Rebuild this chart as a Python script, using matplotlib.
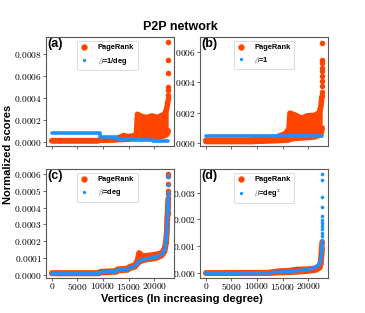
import matplotlib
matplotlib.use('Agg')
import matplotlib.pyplot as plt
from matplotlib.ticker import MultipleLocator, FixedLocator
from matplotlib.lines import Line2D

ORANGE = '#FF4500'
BLUE = '#1E90FF'
SANS = ['Liberation Sans', 'DejaVu Sans']

# ---------------- data ----------------
title = 'P2P network'
xlabel = 'Vertices (In increasing degree)'
ylabel = 'Normalized scores'
panel_tags = ['(a)', '(b)', '(c)', '(d)']
beta_labels = [r'$\beta$=1/deg', r'$\beta$=1', r'$\beta$=deg', r'$\beta$=deg$^2$']
x_ticks = [0, 5000, 10000, 15000, 20000]

# (a) PageRank band (lower / upper envelope of the dense point cloud)
pr_a_x = [0, 9000, 9300, 12500, 13000, 14000, 15000, 16000, 16500, 16700, 17500, 18500,
          19500, 20500, 21500, 22000, 22400, 22600, 22687]
pr_a_lo = [0.07e-4, 0.07e-4, 0.12e-4, 0.15e-4, 0.18e-4, 0.2e-4, 0.22e-4, 0.25e-4, 0.28e-4,
           0.3e-4, 0.32e-4, 0.35e-4, 0.38e-4, 0.42e-4, 0.48e-4, 0.55e-4, 0.65e-4, 0.8e-4, 1.0e-4]
pr_a_hi = [0.09e-4, 0.09e-4, 0.15e-4, 0.22e-4, 0.35e-4, 0.55e-4, 0.45e-4, 0.55e-4, 0.65e-4,
           2.5e-4, 2.3e-4, 2.2e-4, 2.35e-4, 2.2e-4, 2.4e-4, 2.5e-4, 3.0e-4, 3.6e-4, 3.7e-4]
pr_a_out_x = [22680, 22660, 22670, 22640, 22650, 22620, 22600]
pr_a_out_y = [9.1e-4, 7.5e-4, 6.3e-4, 4.95e-4, 4.75e-4, 4.3e-4, 4.0e-4]
b_a_x = [0, 9350, 12800, 16300, 19800, 22687]
b_a_y = [0.75e-4, 0.38e-4, 0.26e-4, 0.16e-4, 0.05e-4, 0.05e-4]

# (b)
pr_b_x = [0, 9000, 9300, 11000, 13800, 15400, 16200, 16400, 17300, 18600, 19900, 21200,
          22100, 22440, 22600, 22687]
pr_b_lo = [0.09e-4, 0.09e-4, 0.1e-4, 0.12e-4, 0.15e-4, 0.18e-4, 0.2e-4, 0.25e-4, 0.3e-4,
           0.33e-4, 0.36e-4, 0.4e-4, 0.5e-4, 0.6e-4, 0.8e-4, 1.0e-4]
pr_b_hi = [0.17e-4, 0.17e-4, 0.2e-4, 0.28e-4, 0.39e-4, 0.6e-4, 0.9e-4, 1.97e-4, 1.86e-4,
           1.64e-4, 1.8e-4, 1.82e-4, 2.0e-4, 2.4e-4, 3.0e-4, 3.1e-4]
pr_b_out_x = [22680, 22660, 22670, 22650, 22640, 22630, 22620, 22610, 22600, 22590]
pr_b_out_y = [6.6e-4, 5.5e-4, 5.3e-4, 4.95e-4, 4.75e-4, 4.4e-4, 4.1e-4, 3.75e-4, 3.4e-4, 3.1e-4]
b_b_x = [0, 22687]
b_b_y = [0.44e-4, 0.44e-4]

# (c)
c_x = [0, 9200, 9400, 12600, 12800, 14800, 15200, 16200, 16700, 17000, 17400, 17700, 18500,
       19500, 20500, 21500, 22000, 22300, 22450, 22550, 22687]
b_c_y = [0.09e-4, 0.09e-4, 0.15e-4, 0.19e-4, 0.28e-4, 0.32e-4, 0.42e-4, 0.5e-4, 0.7e-4,
         0.8e-4, 0.86e-4, 0.9e-4, 0.95e-4, 0.99e-4, 1.07e-4, 1.22e-4, 1.5e-4, 2.0e-4,
         2.8e-4, 3.5e-4, 4.4e-4]
pr_c_lo = [0.07e-4, 0.07e-4, 0.12e-4, 0.16e-4, 0.24e-4, 0.28e-4, 0.38e-4, 0.46e-4, 0.65e-4,
           0.75e-4, 0.8e-4, 0.85e-4, 0.9e-4, 0.94e-4, 1.0e-4, 1.15e-4, 1.4e-4, 1.9e-4,
           2.7e-4, 3.4e-4, 4.3e-4]
pr_c_hi = [0.1e-4, 0.1e-4, 0.18e-4, 0.22e-4, 0.32e-4, 0.37e-4, 0.48e-4, 0.58e-4, 0.85e-4,
           1.3e-4, 1.2e-4, 1.1e-4, 1.13e-4, 1.17e-4, 1.22e-4, 1.32e-4, 1.6e-4, 2.1e-4,
           2.9e-4, 3.6e-4, 4.5e-4]
pr_c_out_x = [22680, 22670, 22660, 22650, 22640, 22630, 22600]
pr_c_out_y = [6.0e-4, 5.9e-4, 5.4e-4, 5.0e-4, 4.8e-4, 4.6e-4, 3.7e-4]
b_c_out_x = [22680, 22670, 22660, 22650, 22640, 22630, 22620, 22610]
b_c_out_y = [5.95e-4, 5.85e-4, 5.35e-4, 4.95e-4, 4.75e-4, 4.55e-4, 4.3e-4, 3.9e-4]

# (d)
pr_d_x = [0, 12000, 14400, 16000, 18000, 20000, 21500, 22200, 22450, 22550, 22687]
pr_d_lo = [0.0, 0.0, 0.02e-3, 0.03e-3, 0.05e-3, 0.08e-3, 0.12e-3, 0.2e-3, 0.35e-3, 0.6e-3, 0.9e-3]
pr_d_hi = [0.01e-3, 0.02e-3, 0.08e-3, 0.09e-3, 0.14e-3, 0.15e-3, 0.19e-3, 0.3e-3, 0.5e-3,
           0.9e-3, 1.16e-3]
b_d_x = [0, 12000, 13500, 15500, 17000, 18500, 20000, 21000, 21800, 22200, 22440, 22550, 22687]
b_d_y = [0.0, 0.01e-3, 0.03e-3, 0.05e-3, 0.08e-3, 0.1e-3, 0.14e-3, 0.19e-3, 0.27e-3,
         0.35e-3, 0.5e-3, 0.75e-3, 1.1e-3]
b_d_out_x = [22687, 22680, 22675, 22670, 22665, 22660, 22655, 22650, 22645, 22640, 22635, 22630]
b_d_out_y = [3.69e-3, 3.48e-3, 2.85e-3, 2.48e-3, 2.12e-3, 1.98e-3, 1.88e-3, 1.76e-3,
             1.64e-3, 1.51e-3, 1.37e-3, 1.25e-3]

ylims = [(-0.00004, 0.000956), (-0.00002, 0.0007), (-0.00002, 0.00063), (-0.00018, 0.00388)]
ysteps = [0.0002, 0.0002, 0.0001, 0.001]

# ---------------- drawing ----------------
plt.rcParams['font.family'] = 'serif'
plt.rcParams['font.serif'] = ['cmr10', 'DejaVu Serif']
plt.rcParams['mathtext.fontset'] = 'cm'
plt.rcParams['axes.formatter.use_mathtext'] = True

fig = plt.figure(figsize=(3.65, 3.13), dpi=100)
W, H = 365.0, 313.0
boxes = [(46, 37, 174, 146), (200, 37, 328, 146), (46, 169, 174, 278), (200, 169, 328, 278)]
axes = []
for (l, t, r, b) in boxes:
    ax = fig.add_axes([l / W, 1 - b / H, (r - l) / W, (b - t) / H])
    axes.append(ax)
axes[0].set_zorder(2); axes[1].set_zorder(1)
axes[2].set_zorder(2); axes[3].set_zorder(1)

OLW = 4.0   # orange marker diameter (pt)
BLW = 2.6   # blue marker diameter (pt)


def band(ax, x, lo, hi, color, lw, z):
    ax.fill_between(x, lo, hi, color=color, lw=0, zorder=z)
    for arr in (lo, hi):
        ax.plot(x, arr, color=color, lw=lw, solid_capstyle='round',
                solid_joinstyle='round', zorder=z)


def line(ax, x, y, color, lw, z, step=False):
    ax.plot(x, y, color=color, lw=lw, solid_capstyle='round', solid_joinstyle='round',
            zorder=z, drawstyle='steps-post' if step else 'default')


ax = axes[0]
band(ax, pr_a_x, pr_a_lo, pr_a_hi, ORANGE, OLW, 2)
ax.plot(pr_a_out_x, pr_a_out_y, 'o', color=ORANGE, ms=OLW, mew=0, zorder=2)
line(ax, b_a_x, b_a_y, BLUE, BLW, 3, step=True)

ax = axes[1]
band(ax, pr_b_x, pr_b_lo, pr_b_hi, ORANGE, OLW, 2)
ax.plot(pr_b_out_x, pr_b_out_y, 'o', color=ORANGE, ms=OLW, mew=0, zorder=2)
line(ax, b_b_x, b_b_y, BLUE, BLW, 3)

ax = axes[2]
band(ax, c_x, pr_c_lo, pr_c_hi, ORANGE, OLW, 2)
ax.plot(pr_c_out_x, pr_c_out_y, 'o', color=ORANGE, ms=OLW, mew=0, zorder=2)
line(ax, c_x, b_c_y, BLUE, BLW, 3)
ax.plot(b_c_out_x, b_c_out_y, 'o', color=BLUE, ms=BLW, mew=0, zorder=3)

ax = axes[3]
band(ax, pr_d_x, pr_d_lo, pr_d_hi, ORANGE, OLW, 2)
line(ax, b_d_x, b_d_y, BLUE, BLW, 3)
ax.plot(b_d_out_x, b_d_out_y, 'o', color=BLUE, ms=BLW, mew=0, zorder=3)

for i, ax in enumerate(axes):
    ax.set_xlim(-1134, 23821)
    ax.set_ylim(*ylims[i])
    ax.xaxis.set_major_locator(FixedLocator(x_ticks))
    ax.yaxis.set_major_locator(MultipleLocator(ysteps[i]))
    ax.tick_params(axis='both', length=2, width=0.6, color='0.3', labelsize=6.8)
    ax.tick_params(axis='y', pad=0.8)
    ax.tick_params(axis='x', pad=0.5)
    if i < 2:
        ax.tick_params(axis='x', labelbottom=False)
    for s in ax.spines.values():
        s.set_color('0.35')
        s.set_linewidth(0.8)
    ax.text(0.008, 0.99, panel_tags[i], transform=ax.transAxes, ha='left', va='top',
            fontsize=9, fontweight='bold', family=SANS, zorder=5)
    h1 = Line2D([], [], ls='', marker='o', color=ORANGE, ms=4.6, mew=0)
    h2 = Line2D([], [], ls='', marker='o', color=BLUE, ms=2.4, mew=0)
    leg = ax.legend([h1, h2], ['PageRank', beta_labels[i]], loc='upper center',
                    bbox_to_anchor=(0.48 if i % 2 == 0 else 0.5, 1.0),
                    prop={'family': SANS, 'weight': 'bold', 'size': 5.4},
                    handlelength=1.0, handletextpad=1.3, labelspacing=0.55,
                    borderpad=0.45, borderaxespad=0.5, frameon=True, fancybox=True)
    leg.get_frame().set_edgecolor('0.8')
    leg.get_frame().set_linewidth(0.6)
    leg.set_zorder(6)

fig.text(0.495, 0.915, title, ha='center', va='center', fontsize=9, fontweight='bold',
         family=SANS)
fig.text(0.4986, 0.046, xlabel, ha='center', va='center', fontsize=8, fontweight='bold',
         family=SANS)
fig.text(0.022, 0.508, ylabel, ha='center', va='center', rotation=90, fontsize=8,
         fontweight='bold', family=SANS)

fig.savefig('out.png', dpi=100, facecolor='white')
